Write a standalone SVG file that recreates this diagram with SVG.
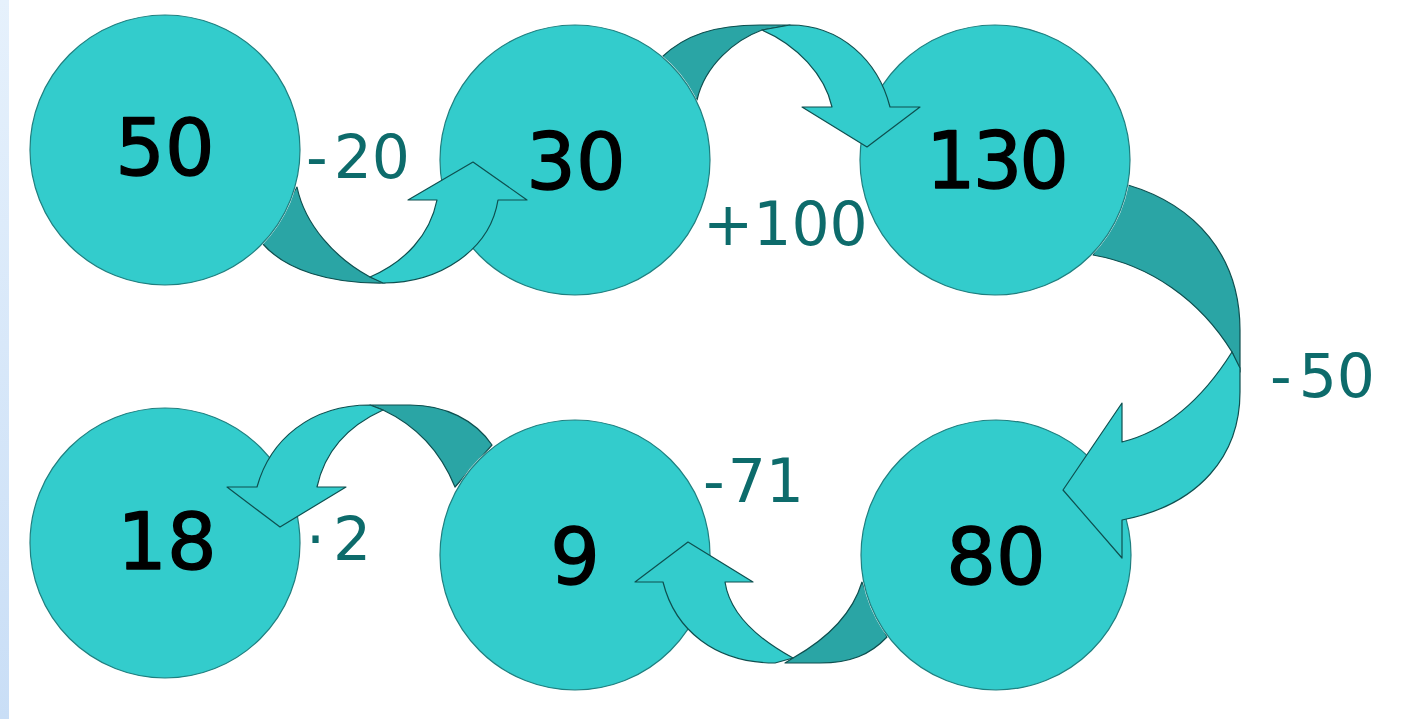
<svg xmlns="http://www.w3.org/2000/svg" width="1402" height="719" viewBox="0 0 1402 719">
<style>
.node{fill:#33CCCC;stroke:#1F7F7F;stroke-width:1.2}
.num{font-family:"DejaVu Sans","Liberation Sans",sans-serif;font-size:78px;fill:#000;stroke:#000;stroke-width:1.4;stroke-linejoin:round;text-anchor:middle}
.lbl{font-family:"DejaVu Sans","Liberation Sans",sans-serif;font-size:60px;fill:#0D6B6B}
.back{fill:#2AA5A5;stroke:#0E4F4F;stroke-width:1.2;stroke-linejoin:round}
.front{fill:#33CCCC;stroke:#0E4F4F;stroke-width:1.2;stroke-linejoin:round}
</style>
<defs>
<linearGradient id="strip" x1="0" y1="0" x2="0" y2="1">
<stop offset="0" stop-color="#E6F1FC"/>
<stop offset="1" stop-color="#C9DEF6"/>
</linearGradient>
<mask id="behind" maskUnits="userSpaceOnUse" x="0" y="0" width="1402" height="719">
<rect x="0" y="0" width="1402" height="719" fill="#fff"/>
<circle cx="165" cy="150" r="136" fill="#000"/>
<circle cx="575" cy="160" r="136" fill="#000"/>
<circle cx="995" cy="160" r="136" fill="#000"/>
<circle cx="996" cy="555" r="136" fill="#000"/>
<circle cx="575" cy="555" r="136" fill="#000"/>
<circle cx="165" cy="543" r="136" fill="#000"/>
</mask>
</defs>
<rect x="0" y="0" width="1402" height="719" fill="#fff"/>
<rect x="0" y="0" width="9" height="719" fill="url(#strip)"/>

<g id="node-50"><circle class="node" cx="165" cy="150" r="135"/><text class="num" x="165" y="175">50</text></g>
<g id="node-30"><circle class="node" cx="575" cy="160" r="135"/><text class="num" x="576" y="189">30</text></g>
<g id="node-130"><circle class="node" cx="995" cy="160" r="135"/><text class="num" x="996" y="188" style="letter-spacing:-3px">130</text></g>
<g id="node-80"><circle class="node" cx="996" cy="555" r="135"/><text class="num" x="996" y="584">80</text></g>
<g id="node-9"><circle class="node" cx="575" cy="555" r="135"/><text class="num" x="575" y="584">9</text></g>
<g id="node-18"><circle class="node" cx="165" cy="543" r="135"/><text class="num" x="167" y="569">18</text></g>

<g id="connectors">
<g id="arrow-50-30">
<path class="back" mask="url(#behind)" d="M 262,243 C 285,270 330,284 385,283 L 370,277 C 335,258 305,225 297,187 Z"/>
<path class="front" d="M 370,277 C 405,262 430,235 437,200 L 408,200 L 473,162 L 527,200 L 498,200 C 490,250 440,283 383,283 Z"/>
</g>
<g id="arrow-30-130">
<path class="back" mask="url(#behind)" d="M 662,57 C 685,35 715,25 760,25 L 790,25 L 762,30 C 735,40 705,65 697,100 Z"/>
<path class="front" d="M 762,30 C 797,45 825,75 832,107 L 802,107 L 867,147 L 920,107 L 890,107 C 878,60 840,25 790,25 Z"/>
</g>
<g id="arrow-130-80">
<path class="back" mask="url(#behind)" d="M 1128,185 C 1195,205 1240,255 1240,330 L 1240,372 L 1232,352 C 1200,300 1150,265 1093,255 Z"/>
<path class="front" d="M 1232,352 C 1205,395 1170,430 1122,442 L 1122,403 L 1063,490 L 1122,558 L 1122,520 C 1200,505 1240,455 1240,392 L 1240,368 Z"/>
</g>
<g id="arrow-80-9">
<path class="back" mask="url(#behind)" d="M 793,658 C 825,640 852,615 862,582 L 887,637 C 870,655 850,663 820,663 L 785,663 Z"/>
<path class="front" d="M 793,658 C 760,640 730,615 725,582 L 753,582 L 688,542 L 635,582 L 663,582 C 675,630 715,663 775,663 Z"/>
</g>
<g id="arrow-9-18">
<path class="back" mask="url(#behind)" d="M 383,410 L 370,405 L 410,405 C 445,405 475,420 492,445 L 455,487 C 440,450 415,425 383,410 Z"/>
<path class="front" d="M 383,410 C 350,425 325,450 317,487 L 346,487 L 280,527 L 227,487 L 257,487 C 270,440 310,405 370,405 Z"/>
</g>
</g>

<g id="labels">
<text class="lbl" x="306" y="178">-<tspan dx="6">20</tspan></text>
<text class="lbl" x="703" y="245">+100</text>
<text class="lbl" x="1270" y="397">-<tspan dx="7">50</tspan></text>
<text class="lbl" x="703" y="502">-<tspan dx="3">71</tspan></text>
<text class="lbl" x="306" y="560">·<tspan dx="8">2</tspan></text>
</g>
</svg>
